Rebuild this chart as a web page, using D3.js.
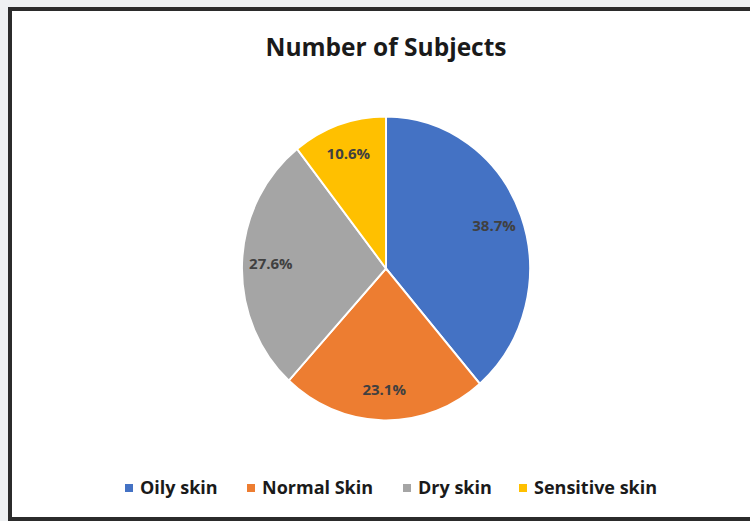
<!DOCTYPE html>
<html>
<head>
<meta charset="utf-8">
<script src="https://cdn.jsdelivr.net/npm/d3@7"></script>
<style>
  body { margin: 0; background: #eef0f2; }
  svg { display: block; }
</style>
</head>
<body>
<div id="chart"></div>
<script>
const categories = ["Oily skin", "Normal Skin", "Dry skin", "Sensitive skin"];
const shares = [38.7, 23.1, 27.6, 10.6];
const colors = ["#4472C4", "#ED7D31", "#A5A5A5", "#FFC000"];

const W = 750, H = 521;
const cx = 386, cy = 268.5, ry = 152, rx = 144;
const font = "'Open Sans', Lato, sans-serif";

const svg = d3.select("#chart").append("svg")
    .attr("width", W)
    .attr("height", H);

// frame
svg.append("rect")
    .attr("x", 10).attr("y", 9)
    .attr("width", W + 10).attr("height", 510)
    .attr("fill", "#fff")
    .attr("stroke", "#2b2b2b")
    .attr("stroke-width", 4);

svg.append("text")
    .attr("x", cx)
    .attr("y", 56)
    .attr("text-anchor", "middle")
    .style("font-family", font)
    .style("font-weight", "bold")
    .style("font-size", "24.5px")
    .style("fill", "#1a1a1a")
    .text("Number of Subjects");

const data = categories.map((c, i) => ({ name: c, value: shares[i], color: colors[i] }));

const pie = d3.pie().sort(null).value(d => d.value);
const arcs = pie(data);

const arc = d3.arc().innerRadius(0).outerRadius(ry);
const labelArc = d3.arc().innerRadius(ry * 0.8).outerRadius(ry * 0.8);

const g = svg.append("g")
    .attr("transform", `translate(${cx},${cy}) scale(${rx / ry},1)`);

g.selectAll("path")
    .data(arcs)
    .enter()
    .append("path")
    .attr("d", arc)
    .attr("fill", d => d.data.color)
    .attr("stroke", "#fff")
    .attr("stroke-width", 2);

svg.selectAll(".label")
    .data(arcs)
    .enter()
    .append("text")
    .attr("class", "label")
    .attr("x", d => cx + labelArc.centroid(d)[0] * rx / ry)
    .attr("y", d => cy + labelArc.centroid(d)[1])
    .attr("dy", "0.35em")
    .attr("text-anchor", "middle")
    .style("font-family", font)
    .style("font-weight", "bold")
    .style("font-size", "15px")
    .style("fill", "#404040")
    .text(d => d3.format(".1f")(d.data.value) + "%");

// legend
const legendX = [125, 247, 403, 519];
const legend = svg.selectAll(".legend")
    .data(data)
    .enter()
    .append("g")
    .attr("class", "legend")
    .attr("transform", (d, i) => `translate(${legendX[i]},488)`);

legend.append("rect")
    .attr("x", 0).attr("y", -4)
    .attr("width", 8).attr("height", 8)
    .attr("fill", d => d.color);

legend.append("text")
    .attr("x", 15)
    .attr("y", 0)
    .attr("dy", "0.35em")
    .style("font-family", font)
    .style("font-weight", "bold")
    .style("font-size", "18px")
    .style("fill", "#1a1a1a")
    .text(d => d.name);
</script>
</body>
</html>
